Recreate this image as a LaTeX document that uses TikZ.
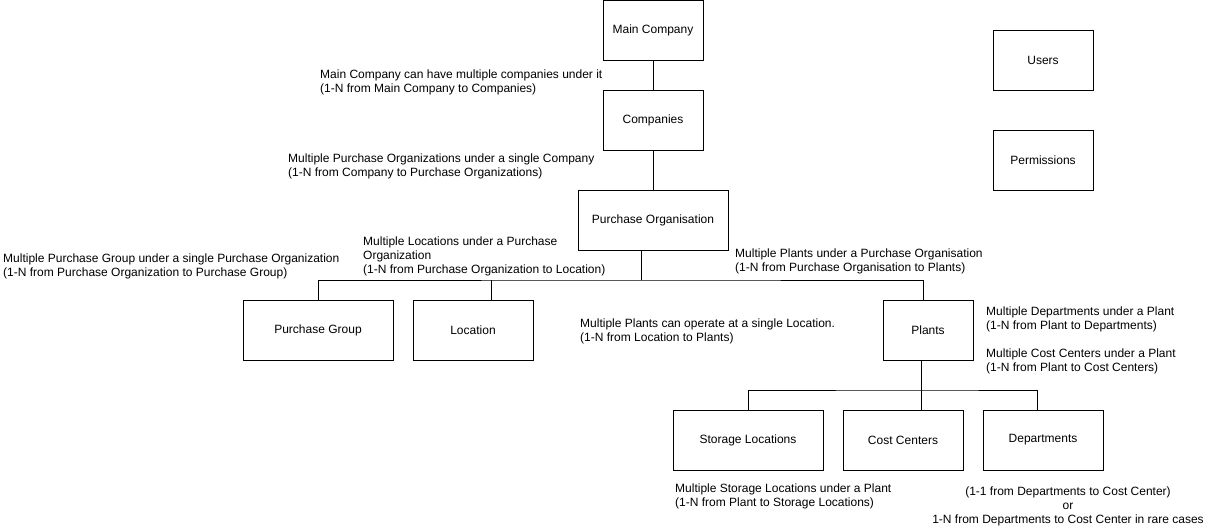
\documentclass[tikz,border=0pt]{standalone}
\usepackage{fontspec}
\setmainfont{Liberation Sans}
\usepackage{tikz}
\usetikzlibrary{positioning}

\begin{document}
\begin{tikzpicture}[x=1pt, y=-1pt,
        box/.style={draw, line width=1pt, minimum width=100pt, minimum height=60pt, inner sep=2pt, outer sep=0pt, font=\fontsize{12}{14}\selectfont},
        note/.style={anchor=west, align=left, inner sep=0pt, font=\fontsize{12}{14}\selectfont},
        link/.style={line width=1pt}
    ]
        \useasboundingbox (0,0) rectangle (1215,531);

        % entities
        \node (main) [box] at (653,30) {Main Company};
        \node (comp) [box, below=30pt of main] {Companies};
        \node (porg) [box, minimum width=150pt, below=40pt of comp] {Purchase Organisation};
        \node (users) [box] at (1043,60) {Users};
        \node (perm) [box, below=40pt of users] {Permissions};
        \node (pgroup) [box, minimum width=150pt] at (318,330) {Purchase Group};
        \node (loc) [box, minimum width=120pt, right=20pt of pgroup] {Location};
        \node (plants) [box, minimum width=90pt] at (928,330) {Plants};
        \node (store) [box, minimum width=150pt] at (748,440) {Storage Locations};
        \node (cost) [box, minimum width=120pt, right=20pt of store] {Cost Centers};
        \node (dept) [box, minimum width=120pt, right=20pt of cost] {Departments};

        % connectors
        \draw [link] (main) -- (comp);
        \draw [link] (comp) -- (porg);
        \coordinate (pobus) at (641,280);
        \coordinate (locin) at ([xshift=18pt]loc.north);
        \draw [link] (porg.south -| pobus) -- (pobus);
        \draw [link] (pgroup.north) |- (pobus) -| ([xshift=-5pt]plants.north);
        \draw [link] (locin) -- (locin |- pobus);
        \coordinate (plbus) at (921,390);
        \coordinate (costin) at ([xshift=18pt]cost.north);
        \draw [link] (plants.south -| plbus) -- (plbus);
        \draw [link] (store.north) |- (plbus) -| ([xshift=-6pt]dept.north);
        \draw [link] (costin) -- (costin |- plbus);

        % notes
        \node (nmain) [note] at (320,82) {Main Company can have multiple companies under it\\(1-N from Main Company to Companies)};
        \node (ncomp) [note] at (288,166) {Multiple Purchase Organizations under a single Company\\(1-N from Company to Purchase Organizations)};
        \node (npgroup) [note] at (3,266) {Multiple Purchase Group under a single Purchase Organization\\(1-N from Purchase Organization to Purchase Group)};
        \node (nloc) [note] at (363,256) {Multiple Locations under a Purchase\\Organization\\(1-N from Purchase Organization to Location)};
        \node (nplants) [note] at (735,261) {Multiple Plants under a Purchase Organisation\\(1-N from Purchase Organisation to Plants)};
        \node (nlocplants) [note] at (580,331) {Multiple Plants can operate at a single Location.\\(1-N from Location to Plants)};
        \node (ndept) [note] at (986,319) {Multiple Departments under a Plant\\(1-N from Plant to Departments)};
        \node (ncost) [note] at (986,361) {Multiple Cost Centers under a Plant\\(1-N from Plant to Cost Centers)};
        \node (nstore) [note] at (675,496) {Multiple Storage Locations under a Plant\\(1-N from Plant to Storage Locations)};
        \node (ndeptcost) [note, anchor=center, align=center] at (1068,506) {(1-1 from Departments to Cost Center)\\or\\1-N from Departments to Cost Center in rare cases};
    \end{tikzpicture}
\end{document}
